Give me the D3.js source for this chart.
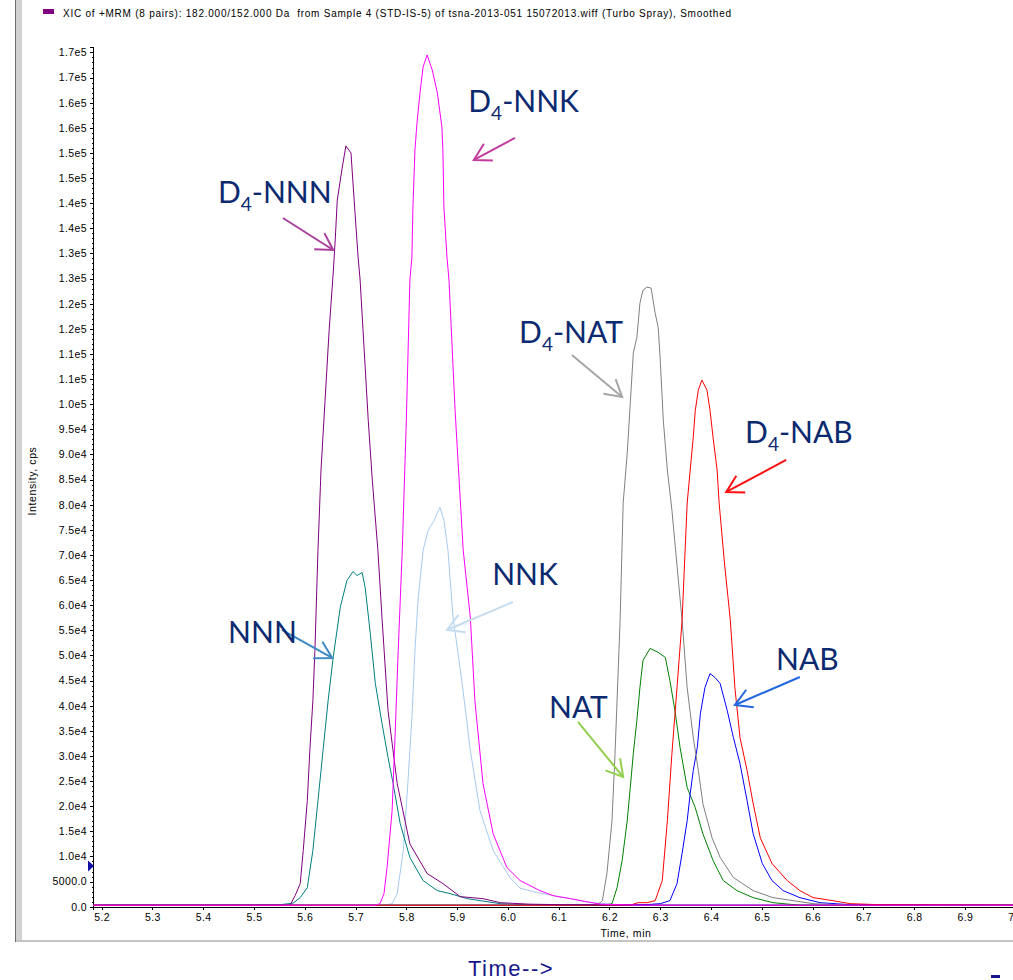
<!DOCTYPE html>
<html>
<head>
<meta charset="utf-8">
<script src="https://cdn.jsdelivr.net/npm/d3@7"></script>
<style>
  body { margin: 0; background: #fff; }
  svg { display: block; }
</style>
</head>
<body>
<div id="chart"></div>
<script>
// ---- data (time in min, intensity in cps) ----
const seriesNames = ["D4-NNN", "D4-NNK", "NNN", "NNK", "D4-NAT", "NAT", "D4-NAB", "NAB"];

const d4nnnTime = [5.183, 5.450, 5.571, 5.581, 5.591, 5.597, 5.605, 5.610, 5.616, 5.620, 5.626, 5.632, 5.640, 5.648, 5.656, 5.660, 5.664, 5.674, 5.681, 5.691, 5.699, 5.705, 5.709, 5.717, 5.725, 5.733, 5.744, 5.752, 5.764, 5.782, 5.807, 5.841, 5.872, 5.906, 5.951, 5.985, 6.044, 6.103, 6.300, 6.600, 7.010];
const d4nnnInt  = [300, 300, 300, 2200, 4600, 11200, 21100, 31100, 41000, 51000, 70900, 86900, 100800, 114700, 126100, 132700, 140600, 147200, 151400, 150000, 138000, 129300, 124700, 110800, 96800, 84900, 70900, 57600, 39000, 24500, 12500, 6600, 4600, 2000, 1600, 800, 500, 400, 300, 300, 300];

const d4nnkTime = [5.183, 5.500, 5.739, 5.748, 5.756, 5.762, 5.772, 5.778, 5.784, 5.792, 5.800, 5.807, 5.811, 5.813, 5.817, 5.821, 5.827, 5.833, 5.841, 5.851, 5.861, 5.870, 5.872, 5.874, 5.880, 5.884, 5.896, 5.912, 5.926, 5.935, 5.951, 5.971, 5.998, 6.024, 6.063, 6.089, 6.123, 6.182, 6.260, 6.500, 7.010];
const d4nnkInt  = [300, 300, 300, 600, 2600, 7800, 19100, 34500, 51000, 70900, 96800, 124700, 129300, 139200, 150600, 156000, 162000, 167100, 169500, 166500, 162000, 155200, 150600, 139200, 129300, 124700, 98800, 70900, 57600, 41000, 24500, 14500, 7800, 5200, 3200, 2200, 1600, 500, 300, 300, 300];

const nnnTime = [5.183, 5.400, 5.551, 5.577, 5.591, 5.605, 5.616, 5.626, 5.636, 5.646, 5.656, 5.670, 5.683, 5.695, 5.703, 5.713, 5.719, 5.729, 5.739, 5.752, 5.764, 5.774, 5.788, 5.807, 5.833, 5.861, 5.886, 5.920, 5.985, 6.063, 6.300, 7.010];
const nnnInt  = [300, 300, 400, 700, 1800, 3800, 11200, 21100, 31100, 41000, 49600, 59600, 64900, 66700, 65900, 66500, 63500, 54400, 44400, 36500, 29700, 24500, 16500, 9800, 5200, 3200, 2600, 1600, 600, 300, 300, 300];

const nnkTime = [5.183, 5.500, 5.760, 5.772, 5.782, 5.794, 5.803, 5.811, 5.817, 5.823, 5.833, 5.843, 5.855, 5.866, 5.874, 5.882, 5.892, 5.910, 5.926, 5.945, 5.971, 6.004, 6.024, 6.050, 6.089, 6.123, 6.162, 6.221, 6.500, 7.010];
const nnkInt  = [300, 300, 300, 600, 2600, 11200, 24500, 37600, 51000, 61000, 70900, 74900, 76900, 79500, 76900, 70900, 57600, 44400, 31100, 19100, 11200, 5800, 3700, 3000, 2200, 1600, 800, 400, 300, 300];

const d4natTime = [5.183, 6.000, 6.172, 6.182, 6.186, 6.195, 6.205, 6.211, 6.221, 6.227, 6.235, 6.241, 6.247, 6.254, 6.260, 6.266, 6.274, 6.282, 6.290, 6.296, 6.300, 6.306, 6.314, 6.323, 6.333, 6.343, 6.353, 6.365, 6.375, 6.384, 6.402, 6.418, 6.444, 6.483, 6.522, 6.562, 6.601, 6.674, 7.010];
const d4natInt  = [300, 300, 300, 800, 1200, 6600, 17100, 30500, 57000, 80300, 90200, 100200, 110200, 113300, 120100, 122700, 123300, 123100, 118100, 115300, 108800, 96800, 86900, 78900, 67900, 57000, 43600, 33700, 27100, 20500, 13700, 9800, 5800, 3200, 1800, 1200, 600, 300, 300];

const natTime = [5.183, 6.000, 6.191, 6.205, 6.215, 6.225, 6.235, 6.241, 6.247, 6.254, 6.260, 6.266, 6.280, 6.296, 6.310, 6.319, 6.329, 6.339, 6.353, 6.369, 6.384, 6.404, 6.424, 6.451, 6.483, 6.522, 6.575, 7.010];
const natInt  = [300, 300, 300, 600, 3800, 9200, 17100, 23700, 30500, 37100, 43600, 49000, 51400, 50600, 49600, 45000, 39000, 31700, 23700, 19700, 14500, 9200, 5200, 3200, 1800, 800, 300, 300];

const d4nabTime = [5.183, 6.000, 6.241, 6.256, 6.274, 6.290, 6.304, 6.314, 6.323, 6.333, 6.343, 6.353, 6.359, 6.365, 6.369, 6.375, 6.382, 6.392, 6.398, 6.404, 6.412, 6.416, 6.426, 6.438, 6.447, 6.457, 6.471, 6.483, 6.497, 6.520, 6.550, 6.575, 6.601, 6.640, 6.674, 6.733, 7.010];
const d4nabInt  = [300, 300, 300, 800, 800, 1200, 5200, 17100, 30500, 43600, 57000, 80300, 86900, 93400, 98800, 102800, 104800, 102800, 98800, 93400, 86900, 80300, 68900, 57000, 43600, 33700, 27100, 20500, 13700, 8600, 5200, 3200, 1800, 1200, 600, 400, 300];

const nabTime = [5.183, 6.000, 6.270, 6.300, 6.319, 6.333, 6.343, 6.353, 6.359, 6.365, 6.373, 6.379, 6.388, 6.398, 6.408, 6.418, 6.432, 6.444, 6.457, 6.471, 6.483, 6.501, 6.520, 6.542, 6.575, 6.615, 6.674, 7.010];
const nabInt  = [300, 300, 400, 600, 1200, 4600, 10600, 17100, 22500, 27100, 31700, 38400, 43600, 46400, 45600, 44400, 39000, 33700, 28500, 21100, 14500, 8600, 5200, 3200, 1800, 800, 400, 300];

// tick values
const xTickValues = [5.2, 5.3, 5.4, 5.5, 5.6, 5.7, 5.8, 5.9, 6.0, 6.1, 6.2, 6.3, 6.4, 6.5, 6.6, 6.7, 6.8, 6.9, 7.0];
const yTickValues = d3.range(0, 170001, 5000);
const yMinorValues = d3.range(0, 170001, 1000).filter(v => v % 5000 !== 0);
const xMinorValues = d3.range(5.19, 7.01, 0.02).map(v => +v.toFixed(2));

// annotation labels (text anchor, arrow tail and tip, all in data units)
const annoLabels = ["D4-NNN", "D4-NNK", "D4-NAT", "D4-NAB", "NNK", "NNN", "NAT", "NAB"];
const annoText   = [[5.429, 140000], [5.922, 158150], [6.022, 112170], [6.467, 92280], [5.969, 64020], [5.449, 52480], [6.081, 37550], [6.528, 47100]];
const annoTail   = [[5.557, 137050], [6.014, 152980], [6.126, 109800], [6.548, 88900], [6.010, 60640], [5.555, 55070], [6.138, 36760], [6.575, 45710]];
const annoTip    = [[5.656, 130680], [5.933, 148600], [6.225, 101440], [6.430, 82530], [5.880, 55070], [5.654, 49500], [6.227, 25810], [6.447, 40140]];

// ---- styles ----
const lineColors = {
  "D4-NNN": "#800080", "D4-NNK": "#ff00ff", "NNN": "#008080", "NNK": "#a6caf0",
  "D4-NAT": "#808080", "NAT": "#008000", "D4-NAB": "#ff0000", "NAB": "#0000ff"
};
const arrowColors = {
  "D4-NNN": "#a8409c", "D4-NNK": "#c23b9e", "D4-NAT": "#a6a6a6", "D4-NAB": "#ff1010",
  "NNK": "#c5dcef", "NNN": "#3e8ac6", "NAT": "#92d050", "NAB": "#2266e0"
};
const navy = "#0b2a6f";
const axisFont = "'Liberation Sans', Arial, sans-serif";

const series = [
  { name: "NNK", t: nnkTime, v: nnkInt },
  { name: "NNN", t: nnnTime, v: nnnInt },
  { name: "NAT", t: natTime, v: natInt },
  { name: "NAB", t: nabTime, v: nabInt },
  { name: "D4-NAT", t: d4natTime, v: d4natInt },
  { name: "D4-NAB", t: d4nabTime, v: d4nabInt },
  { name: "D4-NNN", t: d4nnnTime, v: d4nnnInt },
  { name: "D4-NNK", t: d4nnkTime, v: d4nnkInt }
];

// ---- chart ----
const W = 1013, H = 980;
const svg = d3.select("#chart").append("svg")
  .attr("width", W).attr("height", H);

const x = d3.scaleLinear().domain([5.183, 7.01]).range([93, 1020.8]);
const y = d3.scaleLinear().domain([0, 171000]).range([906.7, 47.4]);

// window frame
svg.append("rect").attr("x", 15).attr("y", 0).attr("width", 1).attr("height", 942).attr("fill", "#6e6e6e");
svg.append("rect").attr("x", 16).attr("y", 0).attr("width", 6).attr("height", 942).attr("fill", "#d2d2d2");
svg.append("rect").attr("x", 16).attr("y", 940).attr("width", W - 16).attr("height", 2).attr("fill", "#c4c4c4");

// title
svg.append("rect").attr("x", 43).attr("y", 9).attr("width", 11).attr("height", 5).attr("fill", "#800080");
svg.append("text")
  .attr("x", 63).attr("y", 17)
  .attr("font-family", axisFont).attr("font-size", 10).attr("letter-spacing", 0.76)
  .attr("fill", "#000")
  .attr("xml:space", "preserve")
  .text("XIC of +MRM (8 pairs): 182.000/152.000 Da  from Sample 4 (STD-IS-5) of tsna-2013-051 15072013.wiff (Turbo Spray), Smoothed");

// y axis
function fmtY(v) {
  if (v === 0) return "0.0";
  if (v < 10000) return v.toFixed(1);
  const e = Math.floor(Math.log10(v));
  const m = Math.round(v / Math.pow(10, e - 1)) / 10;
  return m.toFixed(1) + "e" + e;
}

svg.append("g")
  .attr("transform", "translate(93,0)")
  .call(d3.axisLeft(y).tickValues(yTickValues).tickFormat(fmtY).tickSize(3).tickPadding(3));
svg.append("g")
  .attr("transform", "translate(93,0)")
  .call(d3.axisLeft(y).tickValues(yMinorValues).tickFormat("").tickSize(1.5))
  .call(g => g.select(".domain").remove());

svg.append("g")
  .attr("transform", "translate(0,906.7)")
  .call(d3.axisBottom(x).tickValues(xTickValues).tickFormat(d3.format(".1f")).tickSize(3.5).tickPadding(3));
svg.append("g")
  .attr("transform", "translate(0,906.7)")
  .call(d3.axisBottom(x).tickValues(xMinorValues).tickFormat("").tickSize(1.5))
  .call(g => g.select(".domain").remove());

svg.selectAll(".tick text")
  .attr("font-family", axisFont).attr("font-size", 10.5).attr("letter-spacing", 0.4).attr("fill", "#000");
svg.selectAll(".domain").attr("stroke", "#000").attr("shape-rendering", "crispEdges");
svg.selectAll(".tick line").attr("stroke", "#000").attr("shape-rendering", "crispEdges");

// axis titles
svg.append("text")
  .attr("transform", "translate(36,481) rotate(-90)")
  .attr("text-anchor", "middle")
  .attr("font-family", axisFont).attr("font-size", 10.5).attr("letter-spacing", 0.6)
  .text("Intensity, cps");
svg.append("text")
  .attr("x", 626).attr("y", 937)
  .attr("text-anchor", "middle")
  .attr("font-family", axisFont).attr("font-size", 10.5).attr("letter-spacing", 0.6)
  .text("Time, min");

// marker on y axis
const my = y(8100);
svg.append("path")
  .attr("d", `M88,${my - 5.5}L94,${my}L88,${my + 5.5}Z`)
  .attr("fill", "#1010a8");

// traces
svg.append("clipPath").attr("id", "plotclip")
  .append("rect").attr("x", 93).attr("y", 40).attr("width", W - 93).attr("height", 867);

const line = d3.line().x(d => x(d[0])).y(d => y(d[1]));
svg.append("g").attr("clip-path", "url(#plotclip)")
  .selectAll("path")
  .data(series)
  .join("path")
  .attr("d", s => line(s.t.map((t, i) => [t, s.v[i]])))
  .attr("fill", "none")
  .attr("stroke", s => lineColors[s.name])
  .attr("stroke-width", 1);

// annotations
const anno = svg.append("g");
annoLabels.forEach((lab, i) => {
  const col = arrowColors[lab];
  const x1 = x(annoTail[i][0]), y1 = y(annoTail[i][1]);
  const x2 = x(annoTip[i][0]), y2 = y(annoTip[i][1]);
  const ang = Math.atan2(y2 - y1, x2 - x1);
  const L = 19, spread = Math.PI / 6;
  anno.append("line")
    .attr("x1", x1).attr("y1", y1).attr("x2", x2).attr("y2", y2)
    .attr("stroke", col).attr("stroke-width", 2);
  anno.append("path")
    .attr("d", `M${x2 - L * Math.cos(ang - spread)},${y2 - L * Math.sin(ang - spread)}L${x2},${y2}L${x2 - L * Math.cos(ang + spread)},${y2 - L * Math.sin(ang + spread)}`)
    .attr("fill", "none").attr("stroke", col).attr("stroke-width", 2);

  const t = anno.append("text")
    .attr("x", x(annoText[i][0])).attr("y", y(annoText[i][1]))
    .attr("font-family", "Lato, 'Open Sans', sans-serif")
    .attr("font-size", 30).attr("fill", navy);
  if (lab.startsWith("D4-")) {
    t.append("tspan").text("D");
    t.append("tspan").attr("font-size", 19).attr("dy", 8).text("4");
    t.append("tspan").attr("dy", -8).text(lab.slice(2));
  } else {
    t.text(lab);
  }
});

// footer
svg.append("text")
  .attr("x", 468).attr("y", 976)
  .attr("font-family", axisFont).attr("font-size", 22).attr("letter-spacing", 1.5)
  .attr("fill", "#16168a")
  .text("Time-->");
svg.append("rect").attr("x", 991).attr("y", 975).attr("width", 9).attr("height", 3).attr("fill", "#16168a");
</script>
</body>
</html>
